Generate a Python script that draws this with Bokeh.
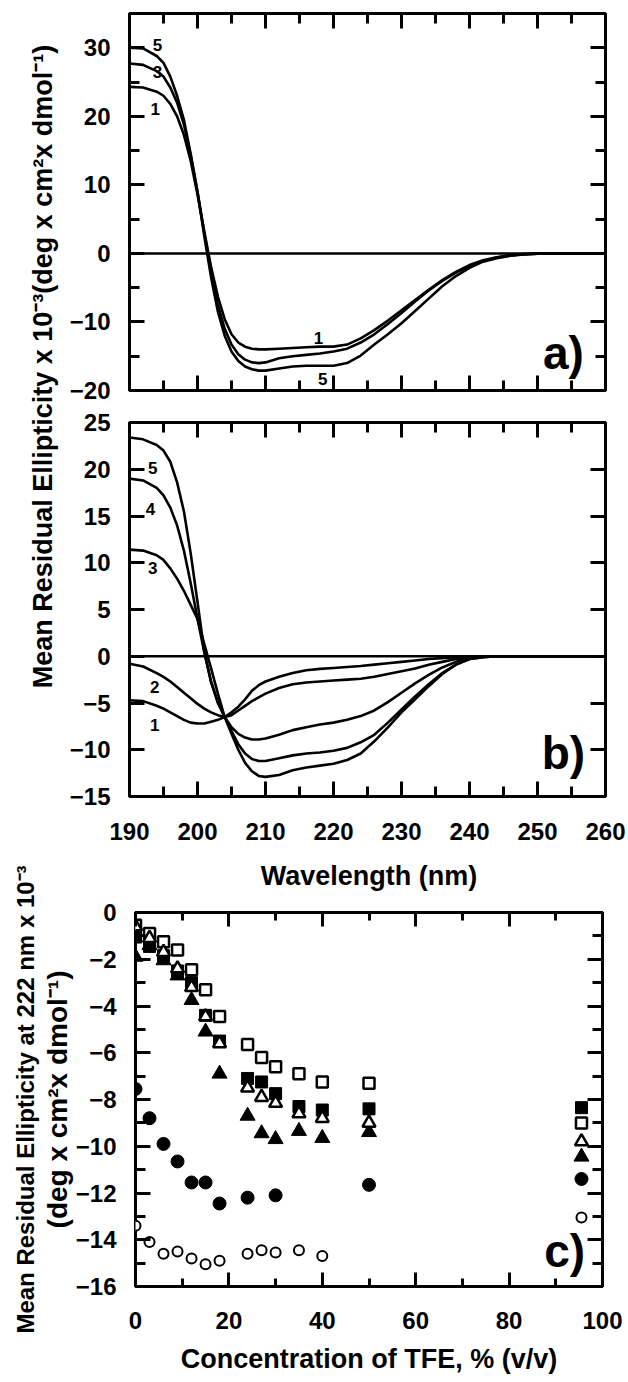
import math
from bokeh.plotting import figure
from bokeh.models import (LinearAxis, SingleIntervalTicker, Span, Label, Range1d,
                          CustomJSTickFormatter, FixedTicker)
from bokeh.layouts import column, row
from bokeh.embed import file_html
from bokeh.resources import INLINE

FONT = "Liberation Sans"

# ---------------- data: panels a) and b) (CD spectra) ----------------
wavelength = [190, 192, 194, 195, 196, 197, 198, 199, 200, 201, 202, 203, 204, 205, 206, 207,
              208, 209, 210, 212, 214, 216, 218, 220, 222, 224, 226, 228, 230, 232, 234, 236,
              238, 240, 242, 244, 246, 248, 250, 255, 260]

a_curve5 = [30.0, 29.9, 28.8, 27.8, 25.8, 23.0, 19.5, 14.5, 9.0, 2.5, -3.5, -8.5, -12.0, -14.3,
            -15.7, -16.5, -16.9, -17.1, -17.1, -16.8, -16.5, -16.4, -16.4, -16.4, -16.0, -14.9,
            -13.3, -11.8, -10.2, -8.4, -6.6, -4.8, -3.3, -2.1, -1.2, -0.7, -0.35, -0.15, -0.05,
            0.0, 0.0]
a_curve3 = [27.7, 27.5, 26.6, 25.8, 24.2, 22.0, 18.8, 14.3, 9.0, 3.0, -2.8, -7.5, -11.0, -13.3,
            -14.7, -15.5, -15.9, -16.0, -15.9, -15.3, -15.0, -14.8, -14.6, -14.3, -13.9, -13.0,
            -11.8, -10.3, -8.7, -7.0, -5.4, -4.0, -2.8, -1.8, -1.1, -0.6, -0.3, -0.12, -0.04,
            0.0, 0.0]
a_curve1 = [24.3, 24.2, 23.6, 23.0, 21.8, 20.0, 17.3, 13.5, 8.6, 3.2, -2.0, -6.3, -9.6, -11.8,
            -13.0, -13.6, -13.9, -14.0, -14.0, -13.9, -13.8, -13.7, -13.6, -13.6, -13.3, -12.4,
            -11.2, -9.8, -8.3, -6.8, -5.3, -3.9, -2.7, -1.7, -1.0, -0.55, -0.25, -0.1, -0.03,
            0.0, 0.0]

b_curve5 = [23.4, 23.2, 22.6, 22.0, 20.8, 18.6, 15.5, 11.0, 5.8, 0.5, -2.8, -5.0, -6.5, -8.3,
            -10.0, -11.4, -12.3, -12.8, -12.9, -12.7, -12.2, -11.9, -11.7, -11.5, -11.1, -10.4,
            -9.1, -7.6, -6.0, -4.6, -3.2, -1.9, -0.9, -0.3, -0.1, 0.0, 0.0, 0.0, 0.0, 0.0, 0.0]
b_curve4 = [19.0, 18.8, 18.0, 17.2, 15.9, 14.0, 11.3, 7.8, 4.0, 0.4, -2.7, -4.9, -6.5, -8.0,
            -9.4, -10.4, -11.0, -11.2, -11.2, -10.9, -10.6, -10.4, -10.3, -10.1, -9.8, -9.2,
            -8.4, -7.1, -5.7, -4.3, -3.0, -1.8, -0.9, -0.3, -0.1, 0.0, 0.0, 0.0, 0.0, 0.0, 0.0]
b_curve3 = [11.4, 11.3, 10.8, 10.3, 9.4, 8.3, 7.0, 5.5, 4.0, 1.3, -1.3, -4.0, -6.5, -7.6,
            -8.3, -8.7, -8.9, -8.9, -8.8, -8.4, -7.9, -7.6, -7.3, -7.1, -6.8, -6.4, -5.8, -4.9,
            -3.9, -2.9, -2.0, -1.2, -0.6, -0.2, -0.05, 0.0, 0.0, 0.0, 0.0, 0.0, 0.0]
b_curve2 = [-0.8, -1.1, -1.8, -2.2, -2.7, -3.3, -3.9, -4.5, -5.1, -5.6, -6.0, -6.3, -6.5, -6.3,
            -5.8, -5.3, -4.8, -4.4, -4.0, -3.4, -3.0, -2.8, -2.7, -2.6, -2.5, -2.4, -2.2, -1.9,
            -1.6, -1.3, -0.9, -0.6, -0.3, -0.1, 0.0, 0.0, 0.0, 0.0, 0.0, 0.0, 0.0]
b_curve1 = [-4.7, -4.8, -5.3, -5.6, -6.0, -6.4, -6.8, -7.1, -7.2, -7.2, -7.0, -6.8, -6.5, -6.0,
            -5.4, -4.6, -3.7, -3.1, -2.7, -2.2, -1.8, -1.5, -1.35, -1.25, -1.15, -1.05, -0.9,
            -0.75, -0.6, -0.45, -0.3, -0.2, -0.1, -0.05, 0.0, 0.0, 0.0, 0.0, 0.0, 0.0, 0.0]

# ---------------- data: panel c) (ellipticity at 222 nm vs TFE) ----------------
tfe = [0, 3, 6, 9, 12, 15, 18, 24, 27, 30, 35, 40, 50, 95.5]
filled_square = [-1.05, -1.45, -1.85, -2.5, -3.0, -4.4, -5.5, -7.1, -7.25, -7.75, -8.3, -8.45, -8.4, -8.35]
open_square = [-0.55, -0.9, -1.25, -1.6, -2.45, -3.3, -4.45, -5.65, -6.2, -6.6, -6.9, -7.25, -7.3, -9.0]
filled_triangle = [-1.9, -1.4, -2.05, -2.7, -3.75, -5.1, -6.9, -8.7, -9.45, -9.7, -9.35, -9.65, -9.4, -10.45]
open_triangle = [-0.6, -1.1, -1.7, -2.4, -3.2, -4.45, -5.6, -7.5, -7.9, -8.15, -8.6, -8.8, -9.0, -9.8]
tfe_filled_circle = [0, 3, 6, 9, 12, 15, 18, 24, 30, 50, 95.5]
filled_circle = [-7.55, -8.8, -9.9, -10.65, -11.55, -11.55, -12.45, -12.2, -12.1, -11.65, -11.4]
tfe_open_circle = [0, 3, 6, 9, 12, 15, 18, 24, 27, 30, 35, 40, 95.5]
open_circle = [-13.4, -14.1, -14.6, -14.5, -14.8, -15.05, -14.9, -14.6, -14.45, -14.55, -14.45, -14.7, -13.05]

TICK_FS = "24px"
TITLE_FS = "27px"
PAGE_W = 628
TOP_H = 852          # height of the a)/b) block
BOT_H = 1382 - TOP_H  # height of the c) block
STRIP_AB = 64


def style_axis(ax, ticker, labels=True, major_in=15, minor_in=10, standoff=19):
    ax.ticker = ticker
    ax.axis_line_color = None
    ax.major_tick_in = major_in
    ax.major_tick_out = 0
    ax.minor_tick_in = minor_in
    ax.minor_tick_out = 0
    ax.major_tick_line_width = 3
    ax.minor_tick_line_width = 3
    ax.major_tick_line_color = "black"
    ax.minor_tick_line_color = "black"
    ax.major_label_text_font = FONT
    ax.major_label_text_font_style = "bold"
    ax.major_label_text_font_size = TICK_FS
    ax.major_label_text_color = "black"
    ax.major_label_standoff = standoff
    ax.axis_label_text_font = FONT
    ax.axis_label_text_font_style = "bold"
    ax.axis_label_text_font_size = TITLE_FS
    ax.axis_label_text_color = "black"
    if not labels:
        ax.formatter = CustomJSTickFormatter(code="return ''")
        ax.major_label_text_font_size = "0px"
        ax.major_label_standoff = 0


def base_fig(width, height, xr, yr, bl, br, bt, bb):
    p = figure(width=width, height=height, x_range=xr, y_range=yr,
               toolbar_location=None, output_backend="svg",
               min_border_left=bl, min_border_right=br, min_border_top=bt, min_border_bottom=bb)
    p.grid.visible = False
    p.outline_line_color = "black"
    p.outline_line_width = 3
    p.background_fill_color = "white"
    p.border_fill_color = "white"
    return p


def add_frame_axes(p, xt, yt, x_labels, y_labels=True, xmaj=15, xmin=10, ymaj=15, ymin=10, xstand=26):
    bottom = p.xaxis[0]
    left = p.yaxis[0]
    style_axis(bottom, xt(), labels=x_labels, major_in=xmaj, minor_in=xmin, standoff=xstand)
    style_axis(left, yt(), labels=y_labels, major_in=ymaj, minor_in=ymin)
    top = LinearAxis()
    style_axis(top, xt(), labels=False, major_in=xmaj, minor_in=xmin)
    p.add_layout(top, "above")
    right = LinearAxis()
    style_axis(right, yt(), labels=False, major_in=ymaj, minor_in=ymin)
    p.add_layout(right, "right")
    return bottom, left, top


def num_label(p, x, y, t, size="17px"):
    p.add_layout(Label(x=x, y=y, text=t, text_align="center", text_baseline="middle",
                       text_font=FONT, text_font_style="bold", text_font_size=size,
                       text_color="black"))


def panel_label(p, x, y, t):
    p.add_layout(Label(x=x, y=y, text=t, text_align="center", text_baseline="middle",
                       text_font=FONT, text_font_style="bold", text_font_size="46px",
                       text_color="black"))


LW = 2.6

# ---------------- left strip with the shared rotated y title of a) and b) ----------------
strip_ab = figure(width=STRIP_AB, height=TOP_H, x_range=Range1d(0, STRIP_AB), y_range=Range1d(0, TOP_H),
                  toolbar_location=None, output_backend="svg", min_border=0)
strip_ab.axis.visible = False
strip_ab.grid.visible = False
strip_ab.outline_line_color = None
strip_ab.add_layout(Label(x=42, y=TOP_H - 366,
                          text="Mean Residual Ellipticity x 10\u207b\u00b3(deg x cm\u00b2x dmol\u207b\u00b9)",
                          angle=math.pi / 2, text_align="center", text_baseline="middle",
                          text_font=FONT, text_font_style="bold", text_font_size=TITLE_FS,
                          text_color="black"))

# ---------------- panel a ----------------
pa = base_fig(PAGE_W - STRIP_AB, 406, Range1d(190, 260), Range1d(-20, 35), 129 - STRIP_AB, 23, 13, 16)
add_frame_axes(pa, lambda: SingleIntervalTicker(interval=10, num_minor_ticks=2),
               lambda: SingleIntervalTicker(interval=10, num_minor_ticks=2), x_labels=False)
pa.add_layout(Span(location=0, dimension="width", line_color="black", line_width=2.5))
for ys in (a_curve1, a_curve3, a_curve5):
    pa.line(wavelength, ys, line_color="black", line_width=LW)
num_label(pa, 194.1, 30.4, "5")
num_label(pa, 194.1, 26.4, "3")
num_label(pa, 193.8, 21.0, "1")
num_label(pa, 217.8, -12.4, "1")
num_label(pa, 218.4, -18.3, "5")
panel_label(pa, 253.8, -14.6, "a)")

# ---------------- panel b ----------------
pb = base_fig(PAGE_W - STRIP_AB, TOP_H - 406, Range1d(190, 260), Range1d(-15, 25),
              129 - STRIP_AB, 23, 16, TOP_H - 406 - 16 - 374)
add_frame_axes(pb, lambda: SingleIntervalTicker(interval=10, num_minor_ticks=2),
               lambda: SingleIntervalTicker(interval=5, num_minor_ticks=0),
               x_labels=True, ymaj=15, ymin=0)
pb.add_layout(Span(location=0, dimension="width", line_color="black", line_width=2.5))
for ys in (b_curve1, b_curve2, b_curve3, b_curve4, b_curve5):
    pb.line(wavelength, ys, line_color="black", line_width=LW)
num_label(pb, 193.4, 20.1, "5")
num_label(pb, 193.1, 15.8, "4")
num_label(pb, 193.4, 9.4, "3")
num_label(pb, 193.7, -3.3, "2")
num_label(pb, 193.7, -7.4, "1")
panel_label(pb, 253.8, -10.3, "b)")

# ---------------- panel c ----------------
pc = base_fig(PAGE_W, BOT_H, Range1d(0, 100), Range1d(-16, 0), 135, 26, 912 - TOP_H, 96)
c_bottom, c_left, c_top = add_frame_axes(pc, lambda: SingleIntervalTicker(interval=20, num_minor_ticks=2),
                                         lambda: SingleIntervalTicker(interval=2, num_minor_ticks=2),
                                         x_labels=True, xmaj=14, xmin=8, ymaj=15, ymin=10, xstand=25)
c_bottom.axis_label = "Concentration of TFE, % (v/v)"
c_bottom.axis_label_standoff = 12
# the wavelength title of panel b) sits in the gap above panel c)
c_top.axis_label = "Wavelength (nm)"
c_top.axis_label_standoff = 22
c_left.axis_label = "(deg x cm\u00b2x dmol\u207b\u00b9)"
c_left.axis_label_standoff = 0
c_left.axis_label_text_font_size = "28px"
c_outer = LinearAxis(ticker=FixedTicker(ticks=[]), axis_line_color=None,
                     major_tick_out=0, major_tick_in=0, minor_tick_out=0, minor_tick_in=0,
                     major_label_standoff=0, axis_label_standoff=0,
                     axis_label="Mean Residual Ellipticity at 222 nm x 10\u207b\u00b3",
                     axis_label_text_font=FONT, axis_label_text_font_style="bold",
                     axis_label_text_font_size="24px", axis_label_text_color="black")
pc.add_layout(c_outer, "left")

pc.scatter(tfe, filled_square, marker="square", size=12, fill_color="black", line_color="black", line_width=1)
pc.scatter(tfe, filled_triangle, marker="triangle", size=15, fill_color="black", line_color="black", line_width=1)
pc.scatter(tfe, open_square, marker="square", size=11, fill_color="white", line_color="black", line_width=2.5)
pc.scatter(tfe, open_triangle, marker="triangle", size=13, fill_color="white", line_color="black", line_width=2.5)
pc.scatter(tfe_filled_circle, filled_circle, marker="circle", size=13, fill_color="black", line_color="black", line_width=1)
pc.scatter(tfe_open_circle, open_circle, marker="circle", size=10, fill_color="white", line_color="black", line_width=2)
panel_label(pc, 91.9, -14.5, "c)")

layout = column(row(strip_ab, column(pa, pb, spacing=0), spacing=0), pc, spacing=0)
open("out.html", "w").write(file_html(layout, INLINE))
